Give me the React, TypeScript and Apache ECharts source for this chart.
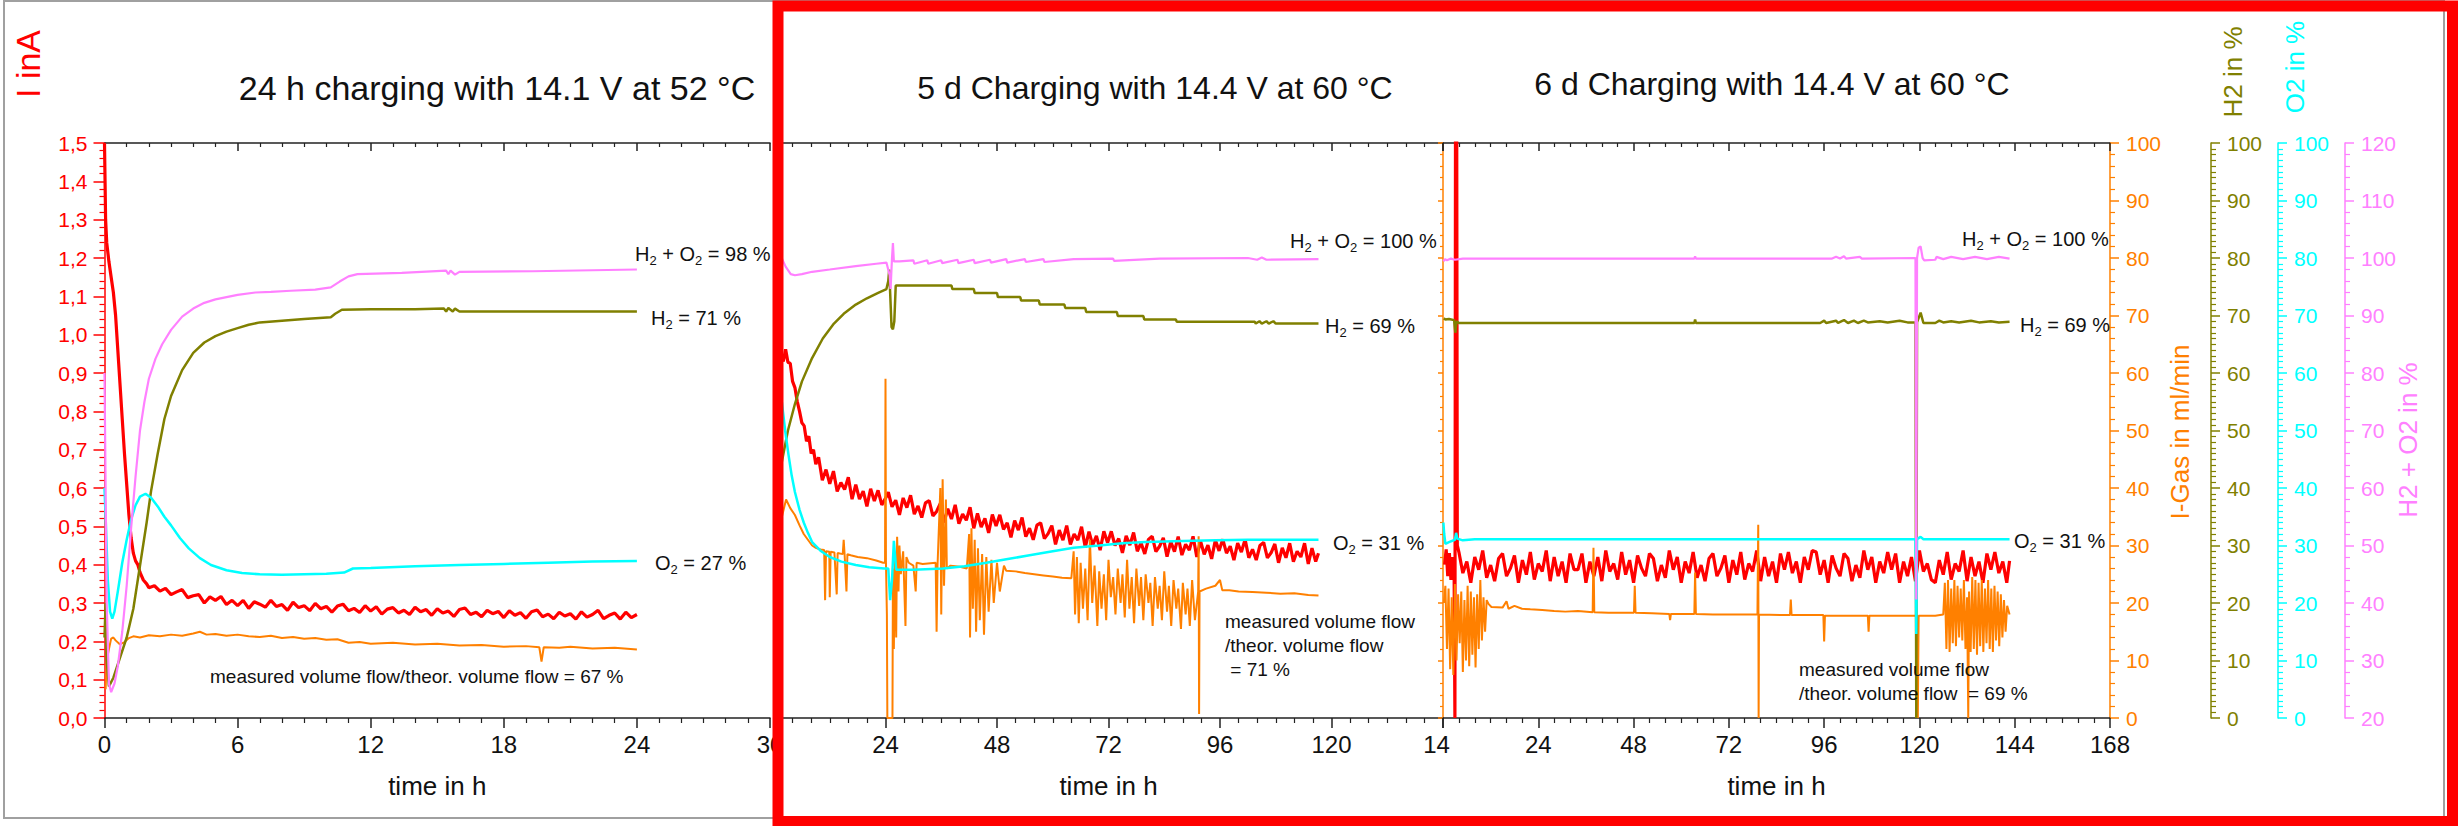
import React, { useEffect, useRef } from "react";
import * as echarts from "echarts";

const FONT = "'Liberation Sans', Arial, sans-serif";
const RED = "#ff0000";
const ORANGE = "#ff8000";
const OLIVE = "#808000";
const CYAN = "#00ffff";
const MAGENTA = "#ff80ff";
const AXIS = "#222222";

// ---------- axis ranges ----------
const leftHours = { max: 30, step: 6 };
const midHours = { max: 144, step: 24 };
const rightHours = { max: 168, step: 24 };
const currentRange = { min: 0, max: 1.5, step: 0.1 };
const gasRange = { min: 0, max: 100, step: 10 };
const h2Range = { min: 0, max: 100, step: 10 };
const o2Range = { min: 0, max: 100, step: 10 };
const sumRange = { min: 20, max: 120, step: 10 };

// ---------- left panel: 24 h charging with 14.1 V at 52 °C ----------
const leftCurrent = [
  [0, 1.5], [0.02, 1.42], [0.05, 1.3], [0.1, 1.24], [0.2, 1.19], [0.3, 1.15], [0.4, 1.11], [0.5, 1.05],
  [0.6, 0.96], [0.7, 0.87], [0.8, 0.78], [0.9, 0.69], [1.0, 0.61], [1.1, 0.53], [1.2, 0.47], [1.3, 0.43],
  [1.4, 0.41], [1.5, 0.4], [1.6, 0.38], [1.75, 0.36], [1.9, 0.35], [2.0, 0.34],
  [2.25, 0.345], [2.5, 0.331], [2.75, 0.338], [3.0, 0.322], [3.25, 0.329], [3.5, 0.335], [3.75, 0.314], [4.0, 0.319],
  [4.25, 0.322], [4.5, 0.3], [4.75, 0.316], [5.0, 0.307], [5.25, 0.317], [5.5, 0.296], [5.75, 0.307], [6.0, 0.293],
  [6.25, 0.307], [6.5, 0.286], [6.75, 0.303], [7.0, 0.297], [7.25, 0.289], [7.5, 0.307], [7.75, 0.291], [8.0, 0.296],
  [8.25, 0.281], [8.5, 0.302], [8.75, 0.288], [9.0, 0.293], [9.25, 0.28], [9.5, 0.299], [9.75, 0.285], [10.0, 0.291],
  [10.25, 0.276], [10.5, 0.292], [10.75, 0.297], [11.0, 0.28], [11.25, 0.286], [11.5, 0.275], [11.75, 0.293], [12.0, 0.279],
  [12.25, 0.29], [12.5, 0.271], [12.75, 0.284], [13.0, 0.288], [13.25, 0.274], [13.5, 0.281], [13.75, 0.27], [14.0, 0.289],
  [14.25, 0.277], [14.5, 0.283], [14.75, 0.268], [15.0, 0.285], [15.25, 0.274], [15.5, 0.279], [15.75, 0.265], [16.0, 0.283],
  [16.25, 0.287], [16.5, 0.27], [16.75, 0.276], [17.0, 0.264], [17.25, 0.281], [17.5, 0.272], [17.75, 0.278], [18.0, 0.262],
  [18.25, 0.28], [18.5, 0.268], [18.75, 0.275], [19.0, 0.26], [19.25, 0.277], [19.5, 0.282], [19.75, 0.264], [20.0, 0.271],
  [20.25, 0.259], [20.5, 0.276], [20.75, 0.266], [21.0, 0.272], [21.25, 0.258], [21.5, 0.277], [21.75, 0.263], [22.0, 0.27],
  [22.25, 0.281], [22.5, 0.259], [22.75, 0.268], [23.0, 0.274], [23.25, 0.258], [23.5, 0.276], [23.75, 0.262], [24.0, 0.27],
];
const leftGas = [
  [0.05, 5], [0.1, 10], [0.2, 12], [0.3, 13.8], [0.4, 14], [0.5, 13.5], [0.7, 12.8], [0.9, 13.2], [1.1, 13.9],
  [1.3, 14.2], [1.6, 14], [2.0, 14.4], [2.5, 14.2], [3.0, 14.5], [3.5, 14.3], [4.0, 14.7], [4.3, 15.0], [4.6, 14.5],
  [5.0, 14.6], [5.5, 14.3], [6, 14.5], [6.5, 14.2], [7, 14.1], [7.5, 14.3], [8, 13.9], [8.5, 14.1], [9, 13.8],
  [9.5, 13.9], [10, 13.6], [10.5, 13.7], [11, 13.1], [11.5, 13.2], [12, 12.9], [13, 13.1], [14, 12.8], [15, 12.9],
  [16, 12.6], [17, 12.7], [18, 12.4], [19, 12.5], [19.6, 12.3], [19.7, 9.8], [19.8, 12.3], [20.5, 12.2], [21, 12.4],
  [22, 12.1], [23, 12.2], [24, 11.9],
];
const leftH2 = [
  [0, 14], [0.05, 20], [0.1, 10], [0.2, 5.5], [0.4, 7], [0.7, 10.5], [1.0, 14], [1.3, 19], [1.5, 24], [1.7, 29],
  [1.9, 34], [2.1, 39.5], [2.4, 46], [2.7, 52], [3.0, 56], [3.5, 60.5], [4.0, 63.5], [4.5, 65.3], [5.0, 66.4],
  [5.5, 67.2], [6.0, 67.8], [6.5, 68.4], [7.0, 68.8], [8.0, 69.1], [9.0, 69.4], [10.2, 69.7], [10.4, 70.3],
  [10.7, 71.0], [12, 71.1], [14, 71.1], [15.3, 71.2], [15.4, 70.7], [15.5, 71.3], [15.7, 70.7], [15.8, 71.2],
  [16.0, 70.7], [20, 70.7], [24, 70.7],
];
const leftO2 = [
  [0, 40], [0.05, 35], [0.15, 24], [0.25, 18.5], [0.35, 17.3], [0.45, 18.5], [0.6, 22], [0.8, 27], [1.0, 31],
  [1.2, 34.5], [1.4, 37], [1.6, 38.5], [1.85, 39], [2.1, 38.3], [2.4, 36.8], [2.7, 35], [3.0, 33.5], [3.4, 31.3],
  [3.8, 29.5], [4.3, 27.8], [4.8, 26.6], [5.5, 25.7], [6.2, 25.2], [7.0, 25], [8.0, 24.9], [9.0, 25], [10.0, 25.1],
  [10.8, 25.3], [11.2, 26], [12, 26.1], [14, 26.4], [16, 26.6], [18, 26.8], [20, 27], [22, 27.2], [24, 27.3],
];
const leftSum = [
  [0, 80], [0.05, 60], [0.1, 40], [0.2, 26], [0.3, 24.5], [0.45, 26], [0.6, 29], [0.8, 35], [1.0, 43], [1.2, 53],
  [1.4, 62], [1.6, 70], [1.8, 75], [2.0, 79], [2.3, 82.5], [2.6, 85], [3.0, 87.5], [3.5, 89.8], [4.0, 91.2],
  [4.5, 92.2], [5.0, 92.8], [5.5, 93.2], [6.0, 93.6], [6.8, 94], [7.5, 94.1], [8.4, 94.3], [9.5, 94.5], [10.2, 94.9],
  [10.6, 95.9], [11.0, 96.8], [11.4, 97.2], [13.4, 97.4], [15.4, 97.8], [15.5, 97.2], [15.6, 97.8], [15.8, 97.1],
  [16.0, 97.6], [19.3, 97.7], [24, 98],
];

// ---------- middle panel: 5 d Charging with 14.4 V at 60 °C ----------
const midCurrent = [
  [0.3, 0.86], [0.6, 0.925], [1.0, 0.94], [1.5, 0.952], [2.0, 0.93], [2.5, 0.962], [3.0, 0.928], [3.5, 0.925],
  [4.0, 0.878], [4.5, 0.862], [5.0, 0.826], [5.5, 0.8], [6.0, 0.77], [6.5, 0.762], [7.0, 0.722], [7.5, 0.735],
  [8.0, 0.69], [8.5, 0.7], [9.0, 0.662],
  [9.6, 0.68], [10.4, 0.62], [11.2, 0.648], [12.0, 0.611], [12.8, 0.644], [13.6, 0.591], [14.4, 0.614], [15.2, 0.596],
  [16.0, 0.628], [16.8, 0.571], [17.6, 0.609], [18.4, 0.571], [19.2, 0.592], [20.0, 0.552], [20.8, 0.598], [21.6, 0.566],
  [22.4, 0.594], [23.2, 0.556], [24.0, 0.573],
  [24.6, 0.589], [25.4, 0.551], [26.2, 0.568], [27.0, 0.53], [27.8, 0.574], [28.6, 0.549], [29.4, 0.581], [30.2, 0.532],
  [31.0, 0.553], [31.8, 0.523], [32.6, 0.561], [33.4, 0.567], [34.2, 0.527], [35.0, 0.539], [35.8, 0.56], [36.6, 0.51],
  [37.4, 0.546], [38.2, 0.519], [39.0, 0.556], [39.8, 0.507], [40.6, 0.532], [41.4, 0.516], [42.2, 0.55], [43.0, 0.495],
  [43.8, 0.534], [44.6, 0.498], [45.4, 0.521], [46.2, 0.483], [47.0, 0.531], [47.8, 0.501],
  [48.6, 0.53], [49.4, 0.492], [50.2, 0.509], [51.0, 0.471], [51.8, 0.515], [52.6, 0.49], [53.4, 0.523], [54.2, 0.473],
  [55.0, 0.495], [55.8, 0.465], [56.6, 0.503], [57.4, 0.509], [58.2, 0.468], [59.0, 0.481], [59.8, 0.502], [60.6, 0.453],
  [61.4, 0.49], [62.2, 0.464], [63.0, 0.502], [63.8, 0.453], [64.6, 0.48], [65.4, 0.464], [66.2, 0.499], [67.0, 0.445],
  [67.8, 0.486], [68.6, 0.451], [69.4, 0.475], [70.2, 0.438], [71.0, 0.487], [71.8, 0.457],
  [72.6, 0.487], [73.4, 0.45], [74.2, 0.468], [75.0, 0.431], [75.8, 0.475], [76.6, 0.451], [77.4, 0.484], [78.2, 0.435],
  [79.0, 0.457], [79.8, 0.428], [80.6, 0.466], [81.4, 0.474], [82.2, 0.434], [83.0, 0.448], [83.8, 0.47], [84.6, 0.421],
  [85.4, 0.46], [86.2, 0.434], [87.0, 0.473], [87.8, 0.425], [88.6, 0.453], [89.4, 0.438], [90.2, 0.474], [91.0, 0.42],
  [91.8, 0.462], [92.6, 0.427], [93.4, 0.451], [94.2, 0.415], [95.0, 0.464], [95.8, 0.436],
  [96.6, 0.466], [97.4, 0.43], [98.2, 0.448], [99.0, 0.412], [99.8, 0.456], [100.6, 0.433], [101.4, 0.466], [102.2, 0.418],
  [103.0, 0.44], [103.8, 0.412], [104.6, 0.45], [105.4, 0.458], [106.2, 0.418], [107.0, 0.431], [107.8, 0.454], [108.6, 0.405],
  [109.4, 0.444], [110.2, 0.418], [111.0, 0.456], [111.8, 0.408], [112.6, 0.435], [113.4, 0.42], [114.2, 0.456], [115.0, 0.402],
  [115.8, 0.443], [116.6, 0.408], [117.2, 0.43],
];
const midGas = [
  [0.5, 20], [1.0, 30], [1.7, 35], [2.6, 38], [3.5, 36.5], [4.5, 35.3], [5.5, 33.5], [6.4, 32], [7.3, 31], [8.2, 30],
  [9.0, 29.6], [10.0, 29.3], [10.8, 29.2], [11.0, 20.5], [11.2, 29], [11.9, 28.9], [12.0, 21], [12.2, 28.9], [13.0, 28.8],
  [13.5, 21.5], [13.7, 28.7], [14.8, 28.5], [15.0, 31], [15.2, 28.4], [15.6, 22], [15.8, 28.5], [16.5, 28.3], [18, 28],
  [20, 27.8], [22, 27.4], [23.5, 27], [23.9, 27], [24.0, 59], [24.1, 27], [24.3, 18], [24.4, 0], [25.5, 0], [25.6, 26],
  [25.8, 12], [26.0, 28], [26.3, 14], [26.5, 31.5], [26.8, 22], [27.0, 30], [27.3, 25], [27.8, 29], [28.3, 16], [28.5, 28],
  [29, 27], [30, 26.5], [30.5, 22], [30.7, 27], [32, 26.8], [34.8, 27], [35.0, 15], [35.2, 26.5], [35.8, 40], [36.0, 18],
  [36.3, 41.5], [36.6, 23], [37.0, 38], [37.2, 26], [38, 26.5], [40, 26.3], [41.5, 26], [42.0, 32], [42.2, 14], [42.5, 33],
  [42.8, 19], [43.2, 31], [43.5, 15], [43.9, 29.5], [44.3, 17], [44.8, 28.5], [45.2, 14.5], [45.7, 28], [46.2, 18.5],
  [46.8, 27.5], [47.3, 20], [48, 27], [48.6, 22], [49.5, 26.5], [50, 25.6], [52, 25.5], [54, 25.2], [56, 25.0], [58, 24.8],
  [60, 24.6], [62, 24.4], [64.0, 24.3], [64.5, 29], [64.8, 18], [65.2, 28], [65.6, 16.5], [66.0, 27], [66.5, 19], [67, 26],
  [67.5, 17], [68, 31], [68.5, 20], [69, 26.5], [69.6, 16], [70, 25.5], [70.5, 19], [71, 25], [71.5, 17], [72, 27.5],
  [72.5, 21], [73, 24.5], [73.5, 18], [74, 26], [74.6, 20], [75, 25], [75.5, 17.5], [76, 27.5], [76.5, 19], [77, 24.5],
  [77.5, 16.5], [78, 26], [78.6, 19.5], [79, 24.5], [79.5, 17], [80, 25], [80.6, 20], [81, 23.5], [81.5, 16], [82, 24.5],
  [82.6, 19], [83, 23], [83.5, 17], [84, 25.5], [84.6, 18.5], [85, 23], [85.5, 16], [86, 24], [86.6, 19], [87, 22.5],
  [87.6, 15.5], [88, 23.5], [88.6, 18], [89, 22.5], [89.5, 16], [90, 24], [90.6, 17], [91.3, 22], [91.4, 31.6], [91.5, 0.7],
  [91.6, 22], [93, 22.5], [95, 23], [96, 24], [96.5, 22.2], [98, 22.2], [100, 22], [103, 21.9], [106, 21.8], [109, 21.6],
  [112, 21.7], [115, 21.4], [117.2, 21.3],
];
const midH2 = [
  [0.5, 40], [1.7, 44.6], [3.0, 50], [4.5, 54.6], [6.0, 58.5], [8.2, 62.6], [10.5, 66], [12.9, 68.6], [15, 70.3],
  [17.6, 71.9], [20, 73], [22.3, 73.9], [24.2, 74.6], [24.6, 76], [24.8, 78], [25.0, 74], [25.3, 68], [25.6, 67.6],
  [25.9, 69], [26.2, 75.2], [38.2, 75.2], [38.4, 74.6], [43, 74.6], [43.2, 73.9], [48, 73.9], [48.2, 73.2], [53, 73.2],
  [53.2, 72.6], [57, 72.6], [57.2, 71.9], [62.5, 71.9], [62.7, 71.3], [67, 71.3], [67.2, 70.6], [73.8, 70.6], [74, 69.9],
  [79.5, 69.9], [79.7, 69.3], [86.5, 69.3], [86.7, 68.9], [103.5, 68.9], [103.7, 68.6], [104.5, 69.0], [105, 68.6],
  [106, 69.0], [106.5, 68.6], [107.5, 69.0], [108, 68.6], [117.2, 68.6],
];
const midO2 = [
  [0.5, 58], [1.7, 54.9], [2.4, 50], [3.1, 45.9], [3.8, 42.2], [4.5, 39.3], [5.5, 36.2], [6.4, 34], [7.3, 32.2],
  [8.2, 30.6], [10, 29.1], [12, 28], [14.5, 27.2], [17.6, 26.6], [20.5, 26.2], [23.7, 26], [24.6, 26], [25.0, 20.5],
  [25.4, 24], [25.8, 30.8], [26.3, 25.8], [30, 25.8], [36.4, 26], [41, 26.4], [45.7, 27], [50, 27.6], [55, 28.3],
  [60, 29], [64.5, 29.6], [70, 30], [75, 30.4], [80, 30.6], [88, 30.8], [95, 30.9], [102, 31], [117.2, 31],
];
const midSum = [
  [0.5, 101], [1.7, 99.9], [2.5, 98.5], [3.6, 97.2], [4.5, 97], [6, 97.2], [8.2, 97.6], [12, 98], [17.6, 98.6],
  [22, 99], [24.2, 99.2], [24.9, 97], [25.1, 94.6], [25.4, 100], [25.6, 102.6], [25.8, 99.4], [27, 99.4], [30, 99.6],
  [30.2, 99.0], [33, 99.6], [33.2, 99.0], [36, 99.6], [36.2, 99.1], [39.5, 99.7], [39.7, 99.1], [43, 99.7], [43.2, 99.1],
  [46.5, 99.7], [46.7, 99.2], [50, 99.8], [50.2, 99.2], [54, 99.8], [54.2, 99.3], [58, 99.8], [58.2, 99.3], [64.5, 99.8],
  [73, 99.9], [73.2, 99.5], [83, 99.9], [102, 100], [104, 99.7], [105, 100.1], [106, 99.7], [117.2, 99.8],
];

// ---------- right panel: 6 d Charging with 14.4 V at 60 °C ----------
const rightCurrent = [
  [0.4, 0.4], [0.8, 0.44], [1.2, 0.37], [1.6, 0.43], [2.0, 0.36], [2.4, 0.42], [2.8, 0.38], [3.0, 0.0], [3.15, 1.6],
  [3.45, 1.6], [3.6, 0.45],
  [4, 0.433], [5, 0.378], [6, 0.408], [7, 0.353], [8, 0.42], [9, 0.387], [10, 0.437], [11, 0.366], [12, 0.399], [13, 0.357],
  [14, 0.416], [15, 0.429], [16, 0.37], [17, 0.391], [18, 0.424], [19, 0.353], [20, 0.412], [21, 0.374], [22, 0.433],
  [23, 0.361], [24, 0.403], [25, 0.382], [26, 0.437], [27, 0.357], [28, 0.42], [29, 0.37], [30, 0.408], [31, 0.353],
  [32, 0.429], [33, 0.387],
  [34, 0.387], [35, 0.429], [36, 0.353], [37, 0.408], [38, 0.37], [39, 0.42], [40, 0.357], [41, 0.437], [42, 0.382],
  [43, 0.403], [44, 0.361], [45, 0.433], [46, 0.374], [47, 0.412], [48, 0.353], [49, 0.424], [50, 0.391], [51, 0.37],
  [52, 0.429], [53, 0.416], [54, 0.357], [55, 0.399], [56, 0.366], [57, 0.437], [58, 0.387], [59, 0.42], [60, 0.353],
  [61, 0.408], [62, 0.378], [63, 0.433],
  [64, 0.366], [65, 0.399], [66, 0.357], [67, 0.416], [68, 0.429], [69, 0.37], [70, 0.391], [71, 0.424], [72, 0.353],
  [73, 0.412], [74, 0.374], [75, 0.433], [76, 0.361], [77, 0.403], [78, 0.382], [79, 0.437], [80, 0.357], [81, 0.42],
  [82, 0.37], [83, 0.408], [84, 0.353], [85, 0.429], [86, 0.387], [87, 0.433], [88, 0.378], [89, 0.408], [90, 0.353],
  [91, 0.42], [92, 0.387], [93, 0.437],
  [94, 0.433], [95, 0.374], [96, 0.412], [97, 0.353], [98, 0.424], [99, 0.391], [100, 0.37], [101, 0.429], [102, 0.416],
  [103, 0.357], [104, 0.399], [105, 0.366], [106, 0.437], [107, 0.387], [108, 0.42], [109, 0.353], [110, 0.408],
  [111, 0.378], [112, 0.433], [113, 0.387], [114, 0.429], [115, 0.353], [116, 0.408], [117, 0.37], [118, 0.42],
  [119, 0.357], [120, 0.437], [121, 0.382], [122, 0.403], [123, 0.361],
  [124, 0.353], [125, 0.412], [126, 0.374], [127, 0.433], [128, 0.361], [129, 0.403], [130, 0.382], [131, 0.437],
  [132, 0.357], [133, 0.42], [134, 0.37], [135, 0.408], [136, 0.353], [137, 0.429], [138, 0.387], [139, 0.433],
  [140, 0.378], [141, 0.408], [142, 0.353], [142.7, 0.41],
];
const rightGas = [
  [0.2, 20], [0.6, 23], [1.0, 12], [1.4, 22.5], [1.8, 8.5], [2.2, 21], [2.6, 7.5], [3.0, 23.3], [3.4, 10], [3.8, 21.5],
  [4.2, 13], [4.6, 22], [5.0, 8], [5.4, 20.5], [5.8, 10], [6.2, 23], [6.6, 9], [7.0, 22], [7.4, 11], [7.8, 21], [8.2, 8.8],
  [8.6, 21.5], [9.0, 12], [9.4, 24], [9.8, 13.5], [10.2, 21], [10.6, 15], [11.0, 20.5], [11.5, 19.8], [12.2, 19.3],
  [15, 19.2], [16, 20.3], [16.5, 19], [18, 19.5], [19.9, 19], [22, 18.9], [25, 18.8], [28, 18.6], [30.8, 18.5], [34, 18.6],
  [37.7, 18.4], [37.9, 29.6], [38.1, 18.4], [41.7, 18.3], [48.1, 18.3], [48.3, 23], [48.5, 18.3], [52.6, 18.2], [57, 18.1],
  [57.2, 17], [57.4, 18.1], [63.3, 18.1], [63.5, 25.3], [63.7, 18.1], [68, 18], [74.5, 18], [79.2, 18], [79.4, 33.6],
  [79.5, 0], [79.6, 18], [85, 17.9], [87.4, 17.9], [87.6, 20.6], [87.8, 17.9], [95.8, 17.9], [96.0, 13.3], [96.2, 17.8],
  [107, 17.8], [107.2, 15], [107.4, 17.8], [119.4, 17.8], [119.6, 0], [119.8, 17.8], [124, 17.8], [126, 18], [126.4, 23.5],
  [126.8, 12], [127.2, 24], [127.6, 11.5], [128, 22.5], [128.4, 13], [128.8, 24], [129.2, 12.5], [129.6, 23], [130, 14],
  [130.4, 22.5], [130.8, 13.5], [131.2, 24], [131.6, 12], [132.0, 21], [132.3, 0], [132.5, 22], [132.9, 11.5], [133.3, 24.5],
  [133.7, 12], [134.1, 24], [134.5, 11], [134.9, 23.5], [135.3, 12.5], [135.7, 24], [136.1, 11.5], [136.5, 22.5], [136.9, 13],
  [137.3, 24], [137.7, 12], [138.1, 22.5], [138.5, 11.5], [138.9, 23], [139.3, 13.5], [139.7, 22], [140.1, 12.5],
  [140.5, 21.5], [140.9, 14], [141.3, 20.5], [141.7, 15], [142.1, 19.5], [142.7, 18],
];
const rightH2 = [
  [0.2, 69.5], [0.6, 69.3], [1.5, 69.4], [2.8, 69.2], [3.1, 67], [3.4, 69], [4, 68.7], [30, 68.7], [63.3, 68.7],
  [63.5, 69.3], [63.7, 68.7], [95, 68.7], [96, 69.1], [96.5, 68.7], [99, 69.1], [99.5, 68.7], [101, 69.2], [102, 68.7],
  [103.5, 69.1], [104.5, 68.7], [106, 69.1], [107, 68.8], [110, 69.0], [112, 68.8], [115, 69.1], [117, 68.8], [119.0, 68.8],
  [119.2, 0], [119.4, 68.8], [120.3, 70.5], [121.0, 68.7], [124, 68.7], [125, 69.1], [126, 68.8], [128, 69.0], [130, 68.8],
  [133, 69.1], [135, 68.8], [138, 69.0], [140, 68.8], [142.7, 68.9],
];
const rightO2 = [
  [0.1, 34], [0.3, 32], [0.6, 30.3], [1.5, 30.6], [3.0, 31], [3.3, 32.2], [3.6, 31.2], [5, 30.9], [8, 31.1], [20, 31.1],
  [60, 31.1], [100, 31.1], [119.0, 31.1], [119.2, 14.6], [119.4, 31.1], [120.3, 31.5], [121, 31.1], [142.7, 31.1],
];
const rightSum = [
  [0.1, 99.4], [0.5, 99.8], [1.0, 99.6], [2, 99.9], [3, 99.7], [5, 99.9], [20, 99.9], [63.3, 99.9], [63.5, 100.3],
  [63.7, 99.9], [98, 99.9], [99, 100.2], [100, 99.9], [101, 100.3], [101.5, 99.9], [105, 100.2], [105.5, 99.9],
  [119.0, 100], [119.2, 40.6], [119.4, 100], [119.8, 101.8], [120.3, 102], [120.8, 100], [121.2, 99.6], [124, 99.7],
  [124.3, 100.2], [126, 99.8], [128, 100.2], [131, 99.8], [134, 100.2], [137, 99.8], [140, 100.2], [142.7, 99.9],
];

// ---------- helpers ----------
const GRIDS = [
  { left: 104.5, top: 143, width: 665.5, height: 575 },
  { left: 774, top: 143, width: 669, height: 575 },
  { left: 1443, top: 143, width: 667, height: 575 },
];

function xAxes(grid: number, max: number, step: number, fmt: (v: number) => string) {
  const line = { show: true, onZero: false, lineStyle: { color: AXIS, width: 1.5 } };
  return [
    {
      type: "value", gridIndex: grid, position: "bottom", min: 0, max, interval: step,
      splitLine: { show: false }, axisLine: line,
      axisTick: { show: true, length: 10, lineStyle: { color: AXIS, width: 1.5 } },
      minorTick: { show: true, splitNumber: 6, length: 5, lineStyle: { color: AXIS, width: 1.2 } },
      axisLabel: {
        show: true, fontSize: 24, color: "#111", fontFamily: FONT, margin: 14, formatter: fmt,
        rich: { c: { fontSize: 24, color: "#111", fontFamily: FONT, padding: [0, 13, 0, 0] } },
      },
      name: "time in h", nameLocation: "middle", nameGap: 55,
      nameTextStyle: { fontSize: 26, color: "#111", fontFamily: FONT },
    },
    {
      type: "value", gridIndex: grid, position: "top", min: 0, max, interval: step,
      splitLine: { show: false }, axisLine: line,
      axisTick: { show: true, inside: true, length: 8, lineStyle: { color: AXIS, width: 1.5 } },
      minorTick: { show: true, splitNumber: 6, length: 4, lineStyle: { color: AXIS, width: 1.2 } },
      axisLabel: { show: false },
    },
  ];
}

function yAx(grid: number, r: { min: number; max: number; step: number }, color: string, opts: any = {}) {
  const {
    show = false, position = "right", offset = 0, minor = 5, inside = false, labels = true,
    fmt = undefined, margin = 16, tick = 9,
  } = opts;
  return {
    type: "value", gridIndex: grid, min: r.min, max: r.max, interval: r.step, show, position, offset,
    splitLine: { show: false },
    axisLine: { show: true, onZero: false, lineStyle: { color, width: 1.5 } },
    axisTick: { show: true, inside, length: tick, lineStyle: { color, width: 1.5 } },
    minorTick: { show: true, splitNumber: minor, length: inside ? 3 : 5, lineStyle: { color, width: 1.2 } },
    axisLabel: { show: labels, color, fontSize: 21, fontFamily: FONT, margin, formatter: fmt },
  };
}

const commaFmt = (v: number) => v.toFixed(1).replace(".", ",");

function lineSeries(grid: number, k: number, data: number[][], color: string, width: number) {
  return {
    type: "line", xAxisIndex: grid * 2, yAxisIndex: grid * 5 + k, data,
    symbol: "none", showSymbol: false, silent: true, clip: true,
    lineStyle: { color, width }, itemStyle: { color }, emphasis: { disabled: true },
  };
}

const richStyles = {
  n: { fontSize: 20, fill: "#111", fontFamily: FONT },
  s: { fontSize: 13, fill: "#111", fontFamily: FONT, padding: [12, 0, 0, 0] },
};

function note(x: number, y: number, text: string) {
  return {
    type: "text", x, y, z: 50,
    style: { text, rich: richStyles, align: "left", verticalAlign: "middle", fill: "#111", fontSize: 20, fontFamily: FONT },
  };
}

function plain(x: number, y: number, text: string, size: number, color: string, opts: any = {}) {
  return {
    type: "text", x, y, z: 50, rotation: opts.rotation || 0,
    style: {
      text, fontSize: size, fill: color, fontFamily: FONT,
      align: opts.align || "center", verticalAlign: opts.va || "middle", lineHeight: opts.lineHeight,
    },
  };
}

export default function App() {
  const ref = useRef<HTMLDivElement>(null);
  useEffect(() => {
    const chart = echarts.init(ref.current!, null, { renderer: "svg" });
    const yAxis: any[] = [];
    // grid 0
    yAxis.push(yAx(0, currentRange, RED, { show: true, position: "left", minor: 5, fmt: commaFmt, margin: 17, tick: 11 }));
    yAxis.push(yAx(0, gasRange, ORANGE), yAx(0, h2Range, OLIVE), yAx(0, o2Range, CYAN), yAx(0, sumRange, MAGENTA));
    // grid 1
    yAxis.push(yAx(1, currentRange, RED, { position: "left" }));
    yAxis.push(yAx(1, gasRange, ORANGE, { show: true, inside: true, labels: false, tick: 5 }));
    yAxis.push(yAx(1, h2Range, OLIVE), yAx(1, o2Range, CYAN), yAx(1, sumRange, MAGENTA));
    // grid 2
    yAxis.push(yAx(2, currentRange, RED, { position: "left" }));
    yAxis.push(yAx(2, gasRange, ORANGE, { show: true, offset: 0, minor: 5 }));
    yAxis.push(yAx(2, h2Range, OLIVE, { show: true, offset: 101, minor: 10 }));
    yAxis.push(yAx(2, o2Range, CYAN, { show: true, offset: 168, minor: 10 }));
    yAxis.push(yAx(2, sumRange, MAGENTA, { show: true, offset: 235, minor: 5 }));

    const xAxis = [
      ...xAxes(0, leftHours.max, leftHours.step, (v: number) => String(v)),
      ...xAxes(1, midHours.max, midHours.step, (v: number) => (v === 0 ? "" : v === 144 ? "{c|14}" : String(v))),
      ...xAxes(2, rightHours.max, rightHours.step, (v: number) => (v === 0 ? "" : String(v))),
    ];

    const panels = [
      [leftCurrent, leftGas, leftH2, leftO2, leftSum],
      [midCurrent, midGas, midH2, midO2, midSum],
      [rightCurrent, rightGas, rightH2, rightO2, rightSum],
    ];
    const colors = [RED, ORANGE, OLIVE, CYAN, MAGENTA];
    const widths = [[3.2, 2, 2.5, 2.5, 2.2], [3.2, 2, 2.5, 2.5, 2.2], [3.2, 2, 2.5, 2.5, 2.2]];
    const series: any[] = [];
    panels.forEach((p, g) => p.forEach((d, k) => series.push(lineSeries(g, k, d, colors[k], widths[g][k]))));

    const graphic: any[] = [
      plain(497, 88, "24 h charging with 14.1 V at 52 °C", 34, "#111"),
      plain(1155, 88, "5 d Charging with 14.4 V at 60 °C", 32, "#111"),
      plain(1772, 84, "6 d Charging with 14.4 V at 60 °C", 32, "#111"),
      plain(28, 64, "I inA", 34, RED, { rotation: Math.PI / 2 }),
      plain(2180, 432, "I-Gas in ml/min", 26, ORANGE, { rotation: Math.PI / 2 }),
      plain(2233, 72, "H2 in %", 26, OLIVE, { rotation: Math.PI / 2 }),
      plain(2295, 67, "O2 in %", 26, CYAN, { rotation: Math.PI / 2 }),
      plain(2408, 440, "H2 + O2 in %", 26, MAGENTA, { rotation: Math.PI / 2 }),
      note(635, 254, "{n|H}{s|2}{n| + O}{s|2}{n| = 98 %}"),
      note(651, 318, "{n|H}{s|2}{n| = 71 %}"),
      note(655, 563, "{n|O}{s|2}{n| = 27 %}"),
      plain(210, 676, "measured volume flow/theor. volume flow = 67 %", 19, "#111", { align: "left" }),
      note(1290, 241, "{n|H}{s|2}{n| + O}{s|2}{n| = 100 %}"),
      note(1325, 326, "{n|H}{s|2}{n| = 69 %}"),
      note(1333, 543, "{n|O}{s|2}{n| = 31 %}"),
      plain(1225, 609, "measured volume flow\n/theor. volume flow\n = 71 %", 19, "#111", { align: "left", va: "top", lineHeight: 24 }),
      note(1962, 239, "{n|H}{s|2}{n| + O}{s|2}{n| = 100 %}"),
      note(2020, 325, "{n|H}{s|2}{n| = 69 %}"),
      note(2014, 541, "{n|O}{s|2}{n| = 31 %}"),
      plain(1799, 657, "measured volume flow\n/theor. volume flow  = 69 %", 19, "#111", { align: "left", va: "top", lineHeight: 24 }),
      {
        type: "rect", z: 90, silent: true,
        shape: { x: 4, y: 1, width: 2440, height: 817 },
        style: { fill: "none", stroke: "#a0a0a0", lineWidth: 2 },
      },
      {
        type: "rect", z: 100, silent: true,
        shape: { x: 778, y: 6, width: 1674.5, height: 815.5 },
        style: { fill: "none", stroke: "#ff0000", lineWidth: 11 },
      },
    ];

    chart.setOption({
      animation: false,
      backgroundColor: "#ffffff",
      grid: GRIDS,
      xAxis,
      yAxis,
      series,
      graphic,
    });
    return () => chart.dispose();
  }, []);
  return (
    <div
      ref={ref}
      style={{ position: "fixed", left: 0, top: 0, width: 2463, height: 826, background: "#fff" }}
    />
  );
}
